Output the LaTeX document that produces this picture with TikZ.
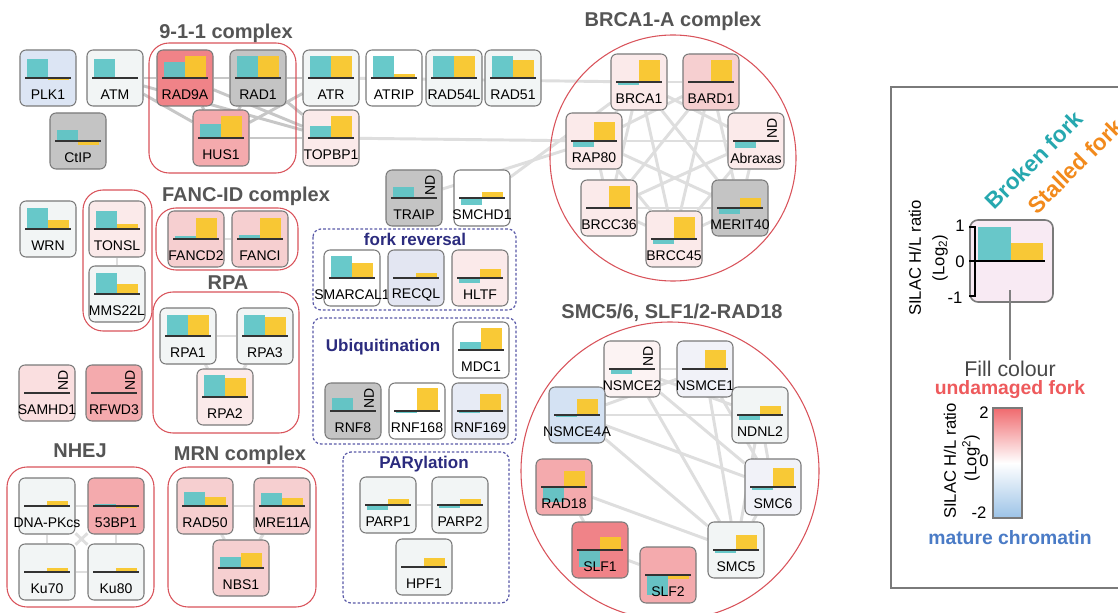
\documentclass[tikz,border=0pt]{standalone}
\usepackage{fontspec}
\setmainfont{Liberation Sans}
\usetikzlibrary{calc}
\pgfdeclarelayer{back}
\pgfdeclarelayer{bg}
\pgfsetlayers{back,bg,main}
\definecolor{tealbarc}{HTML}{5CC5C6}
\definecolor{yelbarc}{HTML}{F9C72C}
\definecolor{boxline}{HTML}{7A7A7A}
\definecolor{grpred}{HTML}{D9535B}
\definecolor{navy}{HTML}{2B2B7E}
\definecolor{dashc}{HTML}{5A5AA8}
\definecolor{titlegray}{HTML}{555555}
\definecolor{cGray}{HTML}{C4C4C4}
\definecolor{cW}{HTML}{F2F5F5}
\definecolor{cWhite}{HTML}{FFFFFF}
\definecolor{cBlueA}{HTML}{DCE5F4}
\definecolor{cBlueB}{HTML}{D4E2F3}
\definecolor{cLavA}{HTML}{E3E6F2}
\definecolor{cLavB}{HTML}{E7EBF5}
\definecolor{cLavC}{HTML}{F1F2F8}
\definecolor{cRedO}{HTML}{FCF3F3}
\definecolor{cRedA}{HTML}{FBEAEA}
\definecolor{cRedAb}{HTML}{FADFE0}
\definecolor{cRedB}{HTML}{F6CFD0}
\definecolor{cRedC}{HTML}{F4AAAD}
\definecolor{cRedD}{HTML}{F08388}
\definecolor{legfill}{HTML}{F8EAF3}
\definecolor{brokenc}{HTML}{26A8AF}
\definecolor{stalledc}{HTML}{F28A1C}
\definecolor{undam}{HTML}{EE5A5C}
\definecolor{mature}{HTML}{4A7BC6}
\definecolor{barred}{HTML}{F06A6E}
\definecolor{barblue}{HTML}{9CC3E7}
\tikzset{
 pbox/.style={draw=boxline, line width=0.8pt, rounded corners=4.5pt, minimum width=42pt, minimum height=42pt, inner sep=0pt},
 tealbar/.style={fill=tealbarc, fill opacity=0.92},
 yelbar/.style={fill=yelbarc, fill opacity=0.95},
 basel/.style={draw=black!80, line width=1pt},
 plabel/.style={font=\fontsize{10.5}{12}\selectfont, inner sep=0pt},
 ndlab/.style={font=\fontsize{10.5}{12}\selectfont, rotate=90, inner sep=0pt},
 grp/.style={draw=grpred, line width=0.8pt, rounded corners=15pt},
 dgrp/.style={draw=dashc, line width=0.9pt, dash pattern=on 2pt off 1.5pt, rounded corners=6pt},
 gtitle/.style={font=\fontsize{15}{18}\selectfont\bfseries, text=titlegray, inner sep=0pt},
 dtitle/.style={font=\fontsize{12.75}{15}\selectfont\bfseries, text=navy, inner sep=0pt},
 edge/.style={draw=black!22, line width=2.2pt},
 ledge/.style={draw=black!13, line width=2.2pt},
 legnum/.style={font=\fontsize{12.5}{14}\selectfont, inner sep=0pt},
}
% name, x, y, fill, teal, yellow, label
\newcommand\prot[7]{%
  \node[pbox, fill=#4] (#1) at (#2,#3) {};
  \begin{scope}[shift={(#2,#3)}]
    \fill[tealbar] (-21,0) rectangle (0,{-19*(#5)});
    \fill[yelbar] (0,0) rectangle (21,{-19*(#6)});
    \draw[basel] (-23,0) -- (23,0);
  \end{scope}
  \node[plabel] (#1-l) at (#2,{#3+17}) {#7};
}
% name, x, y, fill, teal, label  (yellow not determined)
\newcommand\protnd[6]{%
  \node[pbox, fill=#4] (#1) at (#2,#3) {};
  \begin{scope}[shift={(#2,#3)}]
    \fill[tealbar] (-21,0) rectangle (0,{-19*(#5)});
    \draw[basel] (-23,0) -- (23,0);
    \node[ndlab] (#1-nd) at (16,-13) {ND};
  \end{scope}
  \node[plabel] (#1-l) at (#2,{#3+17}) {#6};
}
\begin{document}
\begin{tikzpicture}[x=0.75pt, y=-0.75pt]
\useasboundingbox (0,0) rectangle (1118,613);
\begin{pgfonlayer}{back}
\fill[white] (0,0) rectangle (1118,613);
\end{pgfonlayer}

% ---------- group containers ----------
\draw[grp] (149,43) rectangle (296,173);
\draw[grp] (83,190) rectangle (152,331);
\draw[grp] (156,208) rectangle (298,270);
\draw[grp] (153,292) rectangle (299,433);
\draw[grp] (7,467) rectangle (154,607);
\draw[grp] (168,467) rectangle (316,607);
\draw[draw=grpred, line width=0.8pt] (673,158) circle [radius=123];
\draw[draw=grpred, line width=0.8pt] (670,471) circle [radius=149];
\draw[dgrp] (313,229) rectangle (516,310);
\draw[dgrp] (313,318) rectangle (516,444);
\draw[dgrp] (343,452) rectangle (509,603);

% ---------- titles ----------
\node[gtitle] (t911) at (226,33) {9-1-1 complex};
\node[gtitle] (tbrca) at (673,21) {BRCA1-A complex};
\node[gtitle] (tfanc) at (246,196) {FANC-ID complex};
\node[gtitle] (trpa) at (228,283) {RPA};
\node[gtitle] (tnhej) at (80,451) {NHEJ};
\node[gtitle] (tmrn) at (240,455) {MRN complex};
\node[gtitle] (tsmc) at (672,313) {SMC5/6, SLF1/2-RAD18};
\node[dtitle] (tfork) at (415,239) {fork reversal};
\node[dtitle] (tubi) at (383,347) {Ubiquitination};
\node[dtitle] (tpar) at (424,464) {PARylation};

% ---------- proteins ----------
\prot{PLK1}{48}{78}{cBlueA}{1.0}{-0.12}{PLK1}
\prot{ATM}{115}{78}{cW}{1.0}{0}{ATM}
\prot{RAD9A}{185}{78}{cRedD}{0.85}{1.15}{RAD9A}
\prot{RAD1}{258}{78}{cGray}{1.15}{1.15}{RAD1}
\prot{HUS1}{221}{138}{cRedC}{0.75}{1.15}{HUS1}
\prot{CtIP}{78}{141}{cGray}{0.6}{-0.2}{CtIP}
\prot{ATR}{331}{78}{cW}{1.15}{1.15}{ATR}
\prot{ATRIP}{394}{78}{cWhite}{1.15}{0.2}{ATRIP}
\prot{RAD54L}{454}{78}{cW}{1.15}{1.15}{RAD54L}
\prot{RAD51}{513}{78}{cW}{1.15}{0.95}{RAD51}
\prot{TOPBP1}{331}{138}{cRedA}{0.65}{1.15}{TOPBP1}

\prot{BRCA1}{639}{82}{cRedA}{-0.15}{1.15}{BRCA1}
\prot{BARD1}{711}{82}{cRedB}{0}{1.15}{BARD1}
\prot{RAP80}{594}{141}{cRedA}{-0.3}{1.0}{RAP80}
\protnd{Abraxas}{756}{141}{cRedA}{-0.35}{Abraxas}
\prot{BRCC36}{609}{208}{cRedA}{0}{1.15}{BRCC36}
\prot{MERIT40}{740}{208}{cGray}{-0.3}{0.5}{MERIT40}
\prot{BRCC45}{674}{239}{cRedA}{-0.25}{1.15}{BRCC45}

\prot{WRN}{48}{229}{cW}{1.1}{0.45}{WRN}
\prot{TONSL}{117}{229}{cRedA}{0.95}{0.25}{TONSL}
\prot{MMS22L}{117}{294}{cW}{1.1}{0.55}{MMS22L}
\prot{FANCD2}{196}{239}{cRedB}{0.15}{1.1}{FANCD2}
\prot{FANCI}{260}{239}{cRedB}{0.2}{1.1}{FANCI}
\prot{RPA1}{188}{336}{cW}{1.1}{1.1}{RPA1}
\prot{RPA3}{265}{336}{cW}{1.1}{1.0}{RPA3}
\prot{RPA2}{225}{397}{cRedA}{1.15}{1.0}{RPA2}
\protnd{SAMHD1}{47}{393}{cRedAb}{0}{SAMHD1}
\protnd{RFWD3}{114}{393}{cRedC}{0}{RFWD3}

\protnd{TRAIP}{414}{198}{cGray}{0.6}{TRAIP}
\prot{SMCHD1}{482}{198}{cWhite}{-0.35}{0.3}{SMCHD1}
\prot{SMARCAL1}{352}{278}{cWhite}{1.15}{0.8}{SMARCAL1}
\prot{RECQL}{416}{278}{cLavA}{0}{0.25}{RECQL}
\prot{HLTF}{480}{278}{cRedA}{-0.25}{0.45}{HLTF}
\prot{MDC1}{481}{350}{cWhite}{0.4}{1.15}{MDC1}
\protnd{RNF8}{353}{411}{cGray}{0.7}{RNF8}
\prot{RNF168}{417}{411}{cWhite}{-0.12}{1.2}{RNF168}
\prot{RNF169}{480}{411}{cLavB}{-0.12}{0.9}{RNF169}

\prot{DNAPKcs}{47}{506}{cW}{0}{0.25}{DNA-PKcs}
\prot{bp53}{116}{506}{cRedC}{0.12}{-0.1}{53BP1}
\prot{Ku70}{47}{572}{cW}{0}{0.2}{Ku70}
\prot{Ku80}{116}{572}{cW}{0}{0.2}{Ku80}
\prot{RAD50}{205}{506}{cRedB}{0.75}{0.5}{RAD50}
\prot{MRE11A}{282}{506}{cRedB}{0.7}{0.4}{MRE11A}
\prot{NBS1}{241}{568}{cRedB}{0.6}{0.8}{NBS1}
\prot{PARP1}{388}{505}{cW}{-0.25}{0.3}{PARP1}
\prot{PARP2}{460}{505}{cW}{-0.15}{0.3}{PARP2}
\prot{HPF1}{424}{567}{cW}{0}{0.5}{HPF1}

\protnd{NSMCE2}{632}{369}{cRedO}{-0.25}{NSMCE2}
\prot{NSMCE1}{705}{369}{cLavC}{0}{1.0}{NSMCE1}
\prot{NSMCE4A}{577}{415}{cBlueB}{-0.1}{0.85}{NSMCE4A}
\prot{NDNL2}{760}{415}{cW}{-0.25}{0.45}{NDNL2}
\prot{RAD18}{564}{487}{cRedC}{-0.8}{0.85}{RAD18}
\prot{SMC6}{773}{487}{cLavC}{-0.15}{1.0}{SMC6}
\prot{SLF1}{600}{550}{cRedD}{-0.9}{0.7}{SLF1}
\prot{SMC5}{736}{550}{cW}{-0.15}{0.8}{SMC5}
\prot{SLF2}{668}{575}{cRedC}{-1.05}{-0.2}{SLF2}

% ---------- network edges ----------
\begin{pgfonlayer}{bg}
\foreach \a/\b in {ATM/RAD9A, RAD9A/RAD1, RAD1/ATR, ATM/HUS1, ATM/TOPBP1,
  RAD9A/TOPBP1, RAD1/TOPBP1, HUS1/TOPBP1, HUS1/ATR, RAD9A/HUS1, RAD1/HUS1}
  \draw[edge] (\a) -- (\b);
\foreach \a/\b in {ATR/BRCA1, TOPBP1/RAP80, TRAIP/RAP80, SMCHD1/BRCA1}
  \draw[ledge] (\a) -- (\b);
\foreach \a [count=\i] in {BRCA1,BARD1,Abraxas,MERIT40,BRCC45,BRCC36,RAP80}{
  \foreach \b [count=\j] in {BRCA1,BARD1,Abraxas,MERIT40,BRCC45,BRCC36,RAP80}{
    \ifnum\j>\i \draw[ledge] (\a) -- (\b); \fi
  }
}
\foreach \a/\b in {NSMCE2/NSMCE1, NSMCE2/NDNL2, NSMCE2/SMC5, NSMCE2/SMC6,
  NSMCE1/NSMCE4A, NSMCE1/SMC5, NSMCE1/SMC6, NSMCE1/NDNL2, NSMCE4A/NDNL2,
  NSMCE4A/SMC6, NSMCE4A/SMC5, NDNL2/SMC6, NDNL2/SMC5, SMC6/SMC5,
  RAD18/SLF1, SLF1/SLF2, RAD18/SMC5,
  TONSL/MMS22L, FANCD2/FANCI, RPA1/RPA3, RPA1/RPA2, RPA3/RPA2,
  DNAPKcs/bp53, DNAPKcs/Ku70, DNAPKcs/Ku80, bp53/Ku70, bp53/Ku80, Ku70/Ku80,
  RAD50/MRE11A, RAD50/NBS1, MRE11A/NBS1, PARP1/PARP2}
  \draw[ledge] (\a) -- (\b);
\end{pgfonlayer}

% ---------- legend ----------
\draw[draw=boxline, line width=1.1pt] (891,87) rectangle (1130,588);
\node[font=\fontsize{17}{20}\selectfont\bfseries, text=brokenc, rotate=45, inner sep=0pt] (broken) at (1034,160) {Broken fork};
\node[font=\fontsize{17}{20}\selectfont\bfseries, text=stalledc, rotate=45, inner sep=0pt] (stalled) at (1075,166) {Stalled fork};
\node[draw=boxline, line width=1.2pt, fill=legfill, rounded corners=6pt, minimum width=62.25pt, minimum height=61.5pt, inner sep=0pt] (legbox) at (1011.5,261) {};
\fill[tealbar] (978,261) rectangle (1011,227);
\fill[yelbar] (1011,261) rectangle (1043,243);
\draw[black, line width=1.2pt] (969,261) -- (1045,261);
\draw[black, line width=1.4pt] (969,227) -- (975,227) -- (975,296) -- (969,296);
\node[legnum] (l1) at (960,226) {1};
\node[legnum] (l0) at (960,262) {0};
\node[legnum] (lm1) at (955,298) {-1};
\node[legnum, rotate=90] (silac1) at (915,258) {SILAC H/L ratio};
\node[legnum, rotate=90] (log1) at (940,258) {(Log\textsubscript{2})};
\coordinate (ptr) at (1010,290);
\node[font=\fontsize{16}{19}\selectfont, text=black!72, inner sep=1pt] (fillc) at (1010,369) {Fill colour};
\draw[draw=black!50, line width=1.1pt] (ptr) -- (fillc.north);
\node[font=\fontsize{14.5}{17}\selectfont\bfseries, text=undam, inner sep=0pt] (undamaged) at (1010,390) {undamaged fork};
\shade[top color=barred, bottom color=white] (993,408) rectangle (1022,463);
\shade[top color=white, bottom color=barblue] (993,463) rectangle (1022,518);
\draw[draw=boxline, line width=0.8pt] (993,408) rectangle (1022,518);
\node[legnum] (c2) at (984,413) {2};
\node[legnum] (c0) at (984,461) {0};
\node[legnum] (cm2) at (979,513) {-2};
\node[legnum, rotate=90] (silac2) at (950,461) {SILAC H/L ratio};
\node[legnum, rotate=90] (log2) at (971,458) {(Log\textsuperscript{2})};
\node[font=\fontsize{14.5}{17}\selectfont\bfseries, text=mature, inner sep=0pt] (maturec) at (1010,538) {mature chromatin};
\end{tikzpicture}
\end{document}
